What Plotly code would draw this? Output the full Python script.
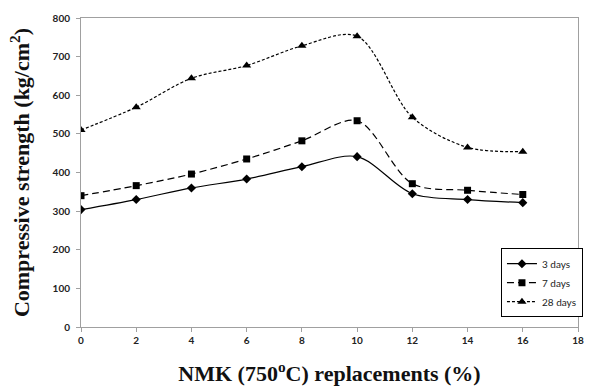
import plotly.graph_objects as go

x_vals = [0, 2, 4, 6, 8, 10, 12, 14, 16]
days3 = [304, 330, 360, 383, 415, 441, 345, 330, 322]
days7 = [340, 366, 396, 435, 482, 534, 371, 354, 343]
days28 = [510, 569, 644, 677, 728, 753, 543, 465, 454]
x_ticks = [0, 2, 4, 6, 8, 10, 12, 14, 16, 18]
y_ticks = [0, 100, 200, 300, 400, 500, 600, 700, 800]

fig = go.Figure()
series = [
    ("3 days", days3, "solid", "diamond", 7),
    ("7 days", days7, "7px,4px", "square", 7),
    ("28 days", days28, "3px,2px", "triangle-up", 8),
]
for name, ys, dash, sym, sz in series:
    fig.add_trace(go.Scatter(
        x=x_vals, y=ys, name=name, mode="lines+markers",
        line=dict(color="black", width=1.2, dash=dash, shape="spline", smoothing=0.9),
        marker=dict(symbol=sym, size=sz, color="black"),
    ))

tick_font = dict(family="Lato, Liberation Sans, sans-serif", size=10, color="#222", weight="bold")
title_font = dict(family="Liberation Serif, Times New Roman, serif", size=22, color="#111")
fig.update_layout(
    width=590, height=391,
    margin=dict(l=81, r=7, t=18, b=64),
    paper_bgcolor="white", plot_bgcolor="white",
    showlegend=True,
    legend=dict(
        x=0.845, y=0.255, xanchor="left", yanchor="top",
        bgcolor="white", bordercolor="black", borderwidth=1,
        font=dict(family="Lato, Liberation Sans, sans-serif", size=10, color="#222"),
        tracegroupgap=0, itemwidth=30,
    ),
    xaxis=dict(
        range=[0, 18], tickvals=x_ticks, ticktext=[str(v) for v in x_ticks],
        showgrid=False, zeroline=False,
        showline=True, linecolor="#a0a0a0", linewidth=1, mirror=True,
        ticks="outside", ticklen=4, tickcolor="#a0a0a0",
        tickfont=tick_font,
        title=dict(text="<b>NMK (750<sup>o</sup>C) replacements (%)</b>",
                   font=title_font, standoff=20),
    ),
    yaxis=dict(
        range=[0, 800], tickvals=y_ticks, ticktext=[str(v) for v in y_ticks],
        showgrid=False, zeroline=False,
        showline=True, linecolor="#a0a0a0", linewidth=1, mirror=True,
        ticks="outside", ticklen=4, tickcolor="#a0a0a0",
        ticklabelstandoff=4,
        tickfont=tick_font,
        title=dict(text="<b>Compressive strength (kg/cm<sup>2</sup>)</b>",
                   font=title_font, standoff=16),
    ),
)

fig.write_html("out.html")
